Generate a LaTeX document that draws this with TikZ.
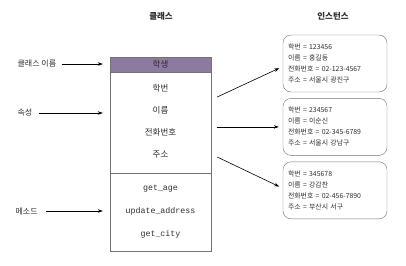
\documentclass[tikz,border=0pt]{standalone}
\usepackage{fontspec}
\setmainfont{Noto Sans CJK KR}
\setmonofont{Liberation Mono}
\usetikzlibrary{arrows.meta, positioning}
\definecolor{titlepurple}{RGB}{140, 122, 160}
\definecolor{linegray}{RGB}{115, 115, 115}
\definecolor{textdark}{RGB}{45, 45, 45}

\begin{document}
\begin{tikzpicture}[
    x=1pt, y=-1pt,
    cls/.style={rectangle, draw=linegray, minimum width=101pt, inner sep=0pt},
    member/.style={text=textdark, font=\fontsize{8.5}{10}\selectfont},
    method/.style={text=textdark, font=\ttfamily\fontsize{8.3}{10}\selectfont},
    lbl/.style={text=textdark, font=\fontsize{8}{10}\selectfont},
    head/.style={text=textdark, font=\bfseries\fontsize{8.5}{10}\selectfont},
    inst/.style={rectangle, rounded corners=8pt, draw=linegray, minimum width=104pt, minimum height=57pt, inner xsep=5pt, text width=94pt, align=left, text=textdark, font=\fontsize{6.9}{11}\selectfont},
    arrow/.style={-{Stealth[length=5pt, width=3.5pt]}, line width=0.6pt}
]
    \useasboundingbox (0,0) rectangle (406,265);

    % headings
    \node[head] (hcls) at (161,16) {클래스};
    \node[head] (hinst) at (333,16) {인스턴스};

    % class box
    \node[cls, fill=titlepurple, minimum height=15pt] (title) at (160.5,64.5) {};
    \node[member] at (title) {학생};
    \node[cls, minimum height=101pt] (attrs) at (160.5,122.5) {};
    \node[cls, minimum height=78pt] (methods) at (160.5,212) {};

    \node[member] (a1) at (160.5,88) {학번};
    \node[member] (a2) at (160.5,110) {이름};
    \node[member] (a3) at (160.5,132) {전화번호};
    \node[member] (a4) at (160.5,155) {주소};

    \node[method] (m1) at (160.5,189) {get\_age};
    \node[method] (m2) at (160.5,211) {update\_address};
    \node[method] (m3) at (160.5,234) {get\_city};

    % left labels
    \node[lbl, anchor=west] (lblname) at (14,64) {클래스 이름};
    \node[lbl, anchor=west] (lblattr) at (14,113) {속성};
    \node[lbl, anchor=west] (lblmeth) at (12,211) {메소드};

    \draw[arrow, shorten <=2pt, shorten >=7pt] (lblname.east) -- (lblname.east -| title.west);
    \draw[arrow, shorten <=3pt, shorten >=7pt] (lblattr.east) -- (lblattr.east -| attrs.west);
    \draw[arrow, shorten <=5pt, shorten >=7pt] (lblmeth.east) -- (lblmeth.east -| methods.west);

    % instances
    \node[inst] (inst1) at (335,63.5) {학번 = 123456\\이름 = 홍길동\\전화번호 = 02-123-4567\\주소 = 서울시 광진구};
    \node[inst, below=6pt of inst1] (inst2) {학번 = 234567\\이름 = 이순신\\전화번호 = 02-345-6789\\주소 = 서울시 강남구};
    \node[inst, below=6pt of inst2] (inst3) {학번 = 345678\\이름 = 강감찬\\전화번호 = 02-456-7890\\주소 = 부산시 서구};

    \draw[arrow, shorten >=4pt] ([xshift=6pt]attrs.east |- 0,97) -- ([yshift=-3pt]inst1.west);
    \draw[arrow, shorten >=4pt] ([xshift=6pt]attrs.east |- inst2.west) -- (inst2.west);
    \draw[arrow, shorten >=4pt] ([xshift=6pt]attrs.east |- 0,157) -- ([yshift=2pt]inst3.west);
\end{tikzpicture}
\end{document}
